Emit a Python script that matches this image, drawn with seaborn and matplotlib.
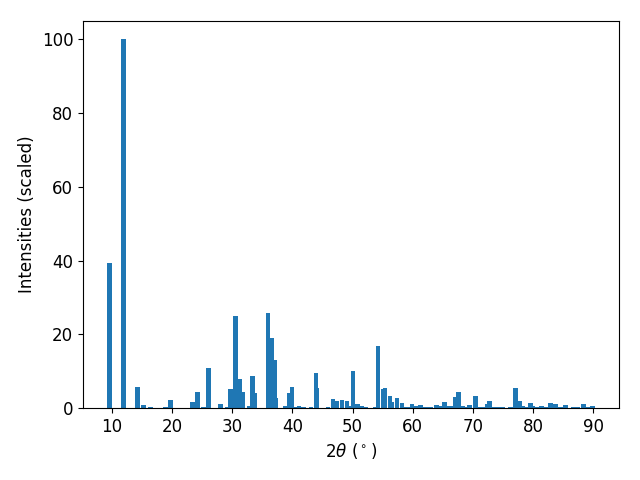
import matplotlib
matplotlib.use("Agg")
import matplotlib.pyplot as plt
import seaborn as sns
import pandas as pd

# 2-theta positions (degrees) and scaled intensities, in drawing order
two_theta = [9.67, 12.0, 14.32, 15.32, 16.49, 18.98, 19.81, 23.47, 24.30, 25.30,
             26.13, 28.13, 29.29, 29.79, 31.29, 30.62, 31.79, 32.87, 33.78, 33.45,
             35.95, 36.61, 37.25, 37.11, 38.77, 39.44, 39.94, 40.44, 41.10, 41.85,
             43.10, 44.10, 43.93, 45.93, 46.76, 47.42, 48.25, 49.09, 49.33, 50.08,
             50.83, 51.58, 52.25, 53.74, 54.24, 55.07, 55.41, 56.24, 56.57, 57.40,
             58.23, 58.57, 59.23, 59.90, 60.56, 61.23, 61.64, 62.22, 62.97, 63.89,
             64.55, 65.22, 65.88, 66.30, 67.05, 67.55, 68.30, 68.80, 69.38, 70.37,
             70.90, 71.60, 72.37, 72.70, 73.37, 74.20, 74.95, 76.20, 77.03, 77.69,
             78.19, 78.77, 79.52, 79.94, 80.52, 81.35, 82.18, 82.93, 83.68, 84.51,
             85.34, 86.67, 87.34, 88.34, 89.09, 89.83]
intensity = [39.4, 100.0, 5.7, 0.8, 0.35, 0.15, 2.2, 1.6, 4.4, 0.3,
             10.9, 1.2, 0.2, 5.2, 7.9, 25.0, 4.4, 0.5, 4.1, 8.7,
             25.8, 19.0, 2.7, 13.0, 0.6, 4.1, 5.7, 0.3, 0.6, 0.2,
             0.3, 5.4, 9.5, 0.3, 2.4, 1.9, 2.2, 1.9, 0.5, 10.1,
             1.1, 0.6, 0.3, 0.3, 16.8, 5.2, 5.4, 3.3, 1.6, 2.7,
             1.4, 0.3, 0.3, 1.1, 0.6, 0.8, 0.15, 0.4, 0.15, 0.8,
             0.6, 1.6, 0.6, 0.6, 3.0, 4.3, 0.6, 0.2, 0.8, 3.3,
             0.2, 0.2, 1.1, 1.9, 0.4, 0.4, 0.2, 0.4, 5.4, 1.9,
             0.6, 0.2, 1.4, 0.6, 0.2, 0.6, 0.4, 1.4, 1.1, 0.4,
             0.8, 0.2, 0.4, 1.1, 0.15, 0.6]

x_label = r"$2\theta$ ($^\circ$)"
y_label = "Intensities (scaled)"

df = pd.DataFrame({"two_theta": two_theta, "intensity": intensity})

plt.rcParams["font.size"] = 12
fig = plt.figure(figsize=(6.4, 4.8), dpi=100)
ax = fig.add_axes([83 / 640, 72 / 480, (619 - 83) / 640, (408 - 21) / 480])
color = sns.color_palette()[0]
ax.bar(df["two_theta"], df["intensity"], width=0.8, color=color)
ax.set_xlabel(x_label)
ax.set_ylabel(y_label)
fig.savefig("out.png", dpi=100)
